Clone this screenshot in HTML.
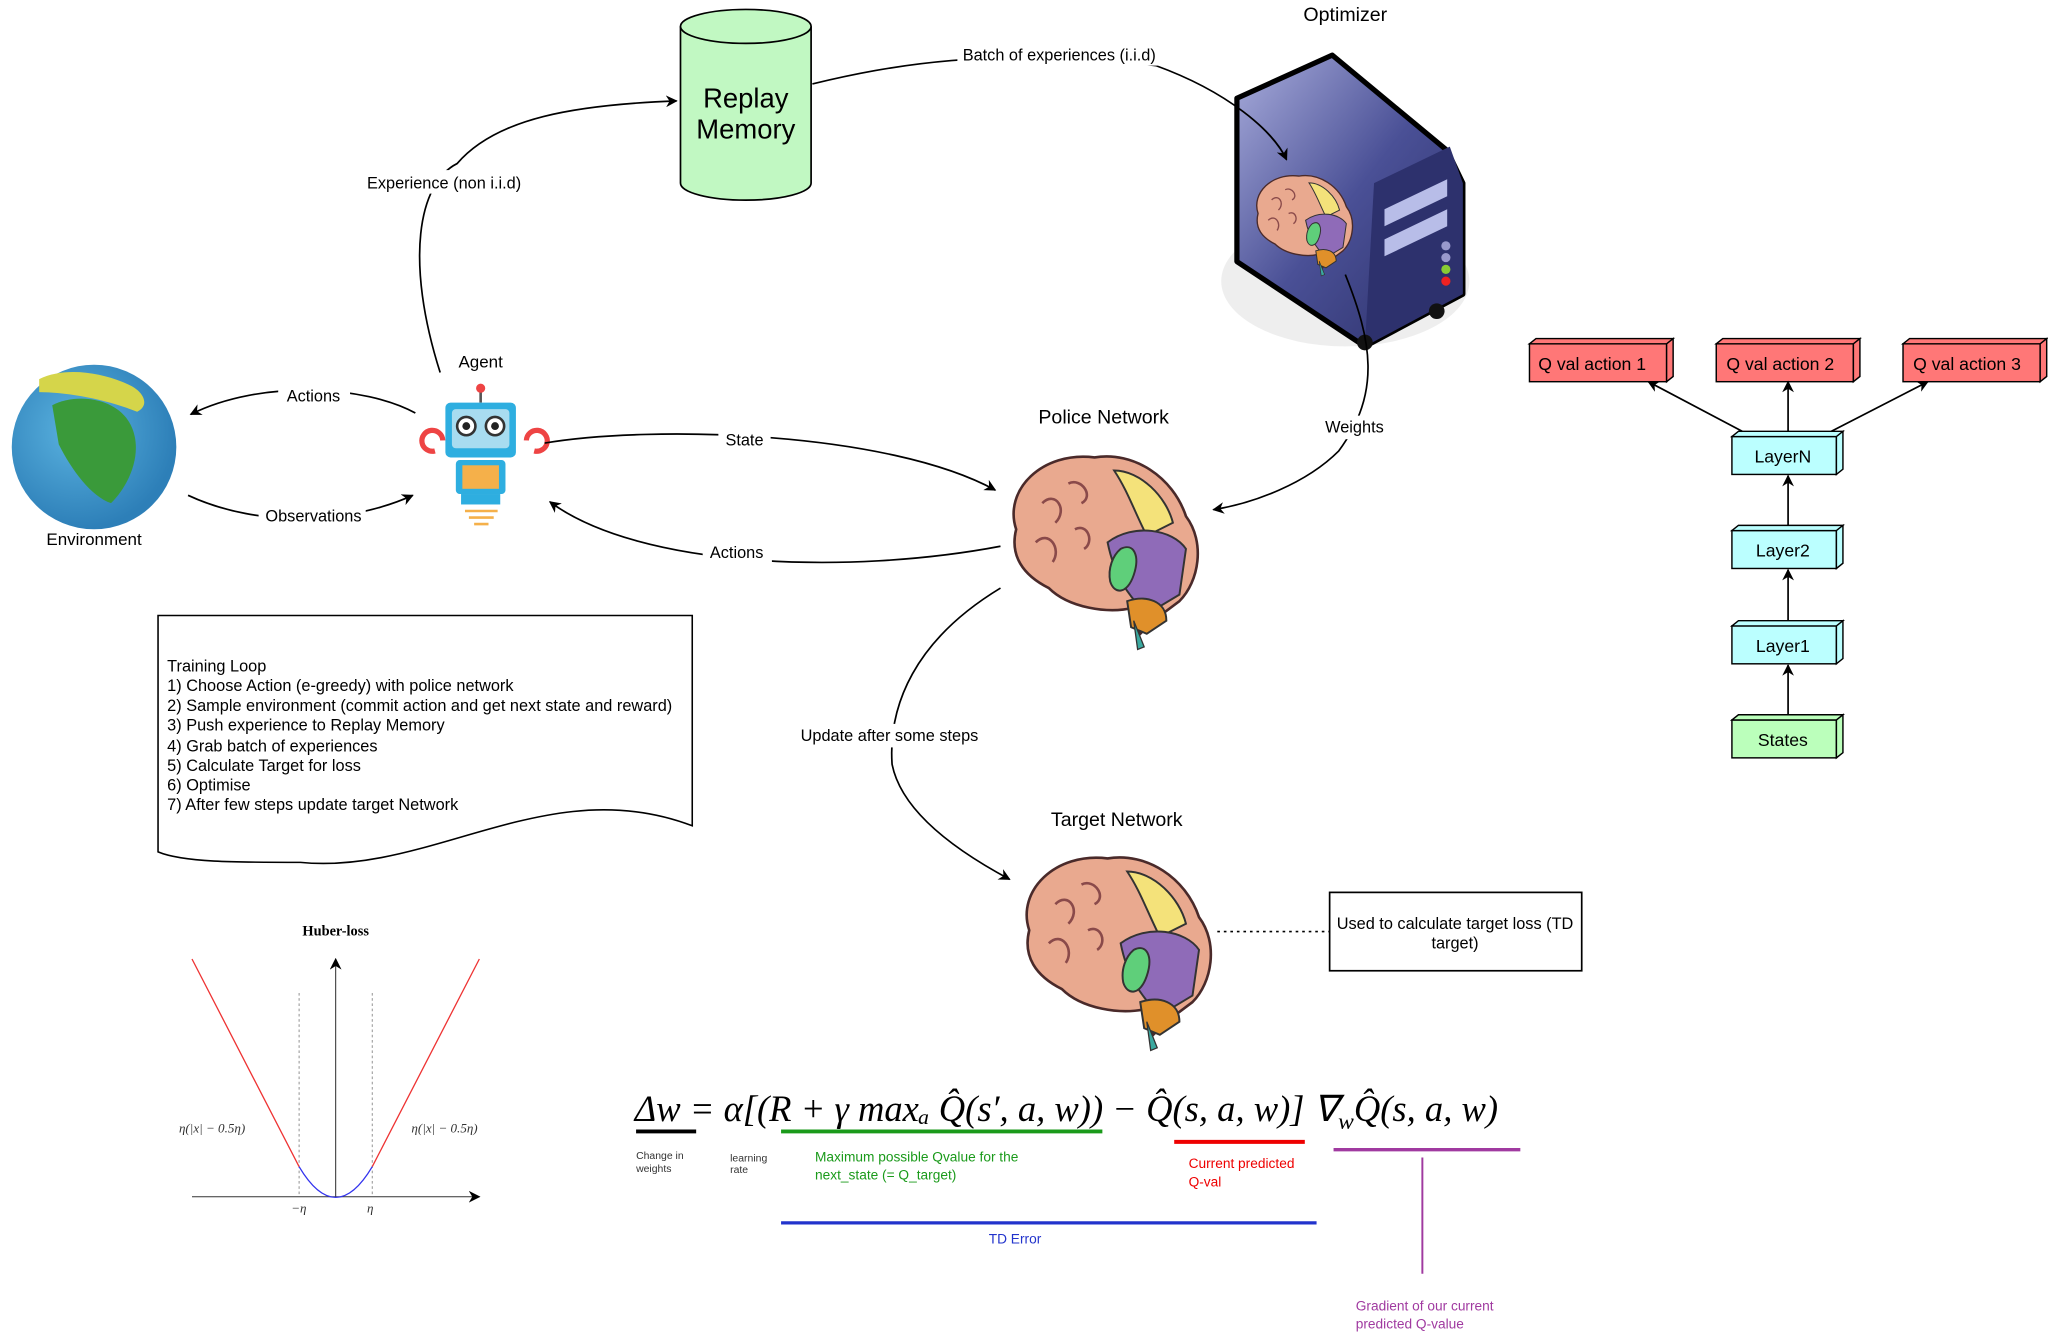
<!DOCTYPE html>
<html><head><meta charset="utf-8"><style>
html,body{margin:0;padding:0;background:#fff;}
svg{display:block;font-family:"Liberation Sans",sans-serif;}
</style></head><body>
<svg width="2048" height="1342" viewBox="0 0 1568 1027" xmlns="http://www.w3.org/2000/svg">
<defs>
<marker id="ar" viewBox="0 0 10 10" refX="9" refY="5" markerWidth="9" markerHeight="9" orient="auto-start-reverse" markerUnits="userSpaceOnUse"><path d="M0,0 L10,5 L0,10 L3,5 z" fill="#000"/></marker>
<linearGradient id="srv" x1="0" y1="0" x2="1" y2="1"><stop offset="0" stop-color="#a9addc"/><stop offset="0.5" stop-color="#4a5096"/><stop offset="1" stop-color="#2a2e66"/></linearGradient>
<radialGradient id="globe" cx="0.4" cy="0.4" r="0.6"><stop offset="0" stop-color="#5bb3e0"/><stop offset="1" stop-color="#2d7fb8"/></radialGradient>
<g id="brain">
<path d="M10,60 C0,30 30,0 70,5 C100,0 130,20 140,50 C155,70 150,100 135,115 L115,130 L105,140 L100,120 C80,125 50,120 35,105 C15,95 5,80 10,60 z" fill="#e9a98f" stroke="#4a2a2a" stroke-width="2"/>
<path d="M85,15 C105,15 125,35 130,55 L110,65 C100,45 95,30 85,15z" fill="#f4e27a" stroke="#333" stroke-width="1.5"/>
<path d="M80,70 C100,55 130,60 140,75 L135,110 L110,125 C95,110 85,95 80,70z" fill="#8f6bb8" stroke="#333" stroke-width="1.5"/>
<path d="M90,75 C100,70 105,80 100,95 C95,110 85,110 82,100 C80,90 84,80 90,75z" fill="#5fcf7a" stroke="#333" stroke-width="1.5"/>
<path d="M95,115 C110,110 125,115 125,130 L110,140 L98,135z" fill="#e0902a" stroke="#333" stroke-width="1.5"/>
<path d="M100,130 L108,150 L103,152z" fill="#3aa9a0" stroke="#333"/>
<path d="M30,40 C40,30 50,45 40,55 M50,25 C60,20 70,35 60,40 M25,70 C35,60 45,75 38,85 M55,60 C65,55 70,70 62,75" fill="none" stroke="#8a4a4a" stroke-width="2"/>
</g>
</defs>

<!-- Replay memory -->
<path d="M521,20 L521,140 A50,13 0 0 0 621,140 L621,20" fill="#c1f8c2" stroke="#000" stroke-width="1.3"/>
<ellipse cx="571" cy="20" rx="50" ry="13" fill="#c1f8c2" stroke="#000" stroke-width="1.3"/>
<text x="571" y="82" font-size="21" text-anchor="middle">Replay</text>
<text x="571" y="106" font-size="21" text-anchor="middle">Memory</text>

<!-- Optimizer server -->
<text x="1030" y="16" font-size="15" text-anchor="middle">Optimizer</text>
<ellipse cx="1030" cy="215" rx="95" ry="50" fill="#ddd" opacity="0.5"/>
<path d="M947,75 L1020,42 L1108,115 L1120,140 L1120,225 L1045,265 L947,200 z" fill="url(#srv)" stroke="#000" stroke-width="4" stroke-linejoin="round"/>
<path d="M1052,140 L1110,112 L1120,140 L1120,225 L1045,265 z" fill="#2d316d"/>
<path d="M1060,160 L1108,137 L1108,150 L1060,173z M1060,183 L1108,160 L1108,173 L1060,196z" fill="#b8bde8"/>
<circle cx="1107" cy="188" r="3.5" fill="#99c"/><circle cx="1107" cy="197" r="3.5" fill="#99c"/><circle cx="1107" cy="206" r="3.5" fill="#8c3"/><circle cx="1107" cy="215" r="3.5" fill="#e22"/>
<circle cx="1045" cy="262" r="6" fill="#111"/><circle cx="1100" cy="238" r="6" fill="#111"/>
<use href="#brain" transform="translate(958,132) scale(0.52)"/>

<!-- Globe -->
<circle cx="72" cy="342" r="63" fill="url(#globe)"/>
<path d="M40,310 C60,300 90,305 100,325 C110,345 100,370 85,385 C70,380 55,360 45,340z" fill="#3a9a3a"/>
<path d="M30,290 C50,280 80,285 100,295 C110,300 115,310 105,315 C80,305 50,300 30,300z" fill="#d5d54a"/>
<text x="72" y="417" font-size="13" text-anchor="middle">Environment</text>

<!-- Agent robot -->
<text x="368" y="281" font-size="13" text-anchor="middle">Agent</text>
<line x1="368" y1="298" x2="368" y2="308" stroke="#555" stroke-width="2"/><circle cx="368" cy="297" r="3.5" fill="#e44"/>
<rect x="341" y="308" width="54" height="42" rx="4" fill="#2eaee0"/>
<rect x="346" y="313" width="44" height="30" rx="3" fill="#a8dcf0"/>
<circle cx="357" cy="326" r="7" fill="#fff" stroke="#333" stroke-width="2"/><circle cx="379" cy="326" r="7" fill="#fff" stroke="#333" stroke-width="2"/>
<circle cx="357" cy="326" r="3" fill="#222"/><circle cx="379" cy="326" r="3" fill="#222"/>
<rect x="349" y="352" width="38" height="26" rx="3" fill="#2eaee0"/><rect x="354" y="356" width="28" height="18" fill="#f5b04a"/>
<rect x="353" y="378" width="30" height="8" fill="#2eaee0"/>
<path d="M333,345 a8,8 0 1 1 6,-8" fill="none" stroke="#e44" stroke-width="4"/><path d="M403,337 a8,8 0 1 1 6,8" fill="none" stroke="#e44" stroke-width="4"/>
<line x1="356" y1="391" x2="381" y2="391" stroke="#f5b04a" stroke-width="2"/><line x1="359" y1="396" x2="378" y2="396" stroke="#f5b04a" stroke-width="2"/><line x1="363" y1="401" x2="374" y2="401" stroke="#f5b04a" stroke-width="2"/>

<!-- Brains -->
<text x="845" y="324" font-size="15" text-anchor="middle">Police Network</text>
<use href="#brain" transform="translate(768,345)"/>
<text x="855" y="632" font-size="15" text-anchor="middle">Target Network</text>
<use href="#brain" transform="translate(778,652)"/>

<!-- connectors -->
<g fill="none" stroke="#000" stroke-width="1.3">
<path d="M337,285 C310,200 320,140 350,125 C380,90 440,80 518,77" marker-end="url(#ar)"/>
<path d="M622,64 C680,50 760,35 885,50 C940,70 975,100 985,122" marker-end="url(#ar)"/>
<path d="M318,316 C280,295 200,290 146,317" marker-end="url(#ar)"/>
<path d="M144,379 C200,405 270,400 316,379" marker-end="url(#ar)"/>
<path d="M417,339 C500,325 680,330 762,375" marker-end="url(#ar)"/>
<path d="M766,418 C650,440 490,435 421,384" marker-end="url(#ar)"/>
<path d="M1030,210 C1050,260 1058,300 1025,345 C1000,370 960,385 929,390" marker-end="url(#ar)"/>
<path d="M766,450 C700,490 680,540 683,585 C690,620 730,650 773,673" marker-end="url(#ar)"/>
</g>
<g font-size="12.5" text-anchor="middle">
<rect x="278" y="130" width="125" height="18" fill="#fff"/><text x="340" y="144">Experience (non i.i.d)</text>
<rect x="733" y="32" width="157" height="18" fill="#fff"/><text x="811" y="46">Batch of experiences (i.i.d)</text>
<rect x="213" y="294" width="55" height="18" fill="#fff"/><text x="240" y="307">Actions</text>
<rect x="198" y="386" width="82" height="18" fill="#fff"/><text x="240" y="399">Observations</text>
<rect x="550" y="328" width="40" height="18" fill="#fff"/><text x="570" y="341">State</text>
<rect x="538" y="414" width="53" height="18" fill="#fff"/><text x="564" y="427">Actions</text>
<rect x="1010" y="318" width="55" height="18" fill="#fff"/><text x="1037" y="331">Weights</text>
<rect x="608" y="554" width="148" height="18" fill="#fff"/><text x="681" y="567">Update after some steps</text>
</g>

<!-- Training loop doc -->
<path d="M121,471 L530,471 L530,632 C420,590 330,670 230,660 C180,660 140,660 121,652 z" fill="#fff" stroke="#000" stroke-width="1.2"/>
<g font-size="12.5">
<text x="128" y="514">Training Loop</text>
<text x="128" y="529">1) Choose Action (e-greedy) with police network</text>
<text x="128" y="544">2) Sample environment (commit action and get next state and reward)</text>
<text x="128" y="559">3) Push experience to Replay Memory</text>
<text x="128" y="575">4) Grab batch of experiences</text>
<text x="128" y="590">5) Calculate Target for loss</text>
<text x="128" y="605">6) Optimise</text>
<text x="128" y="620">7) After few steps update target Network</text>
</g>

<!-- target box -->
<line x1="932" y1="713" x2="1018" y2="713" stroke="#000" stroke-dasharray="2,3" stroke-width="1.3"/>
<rect x="1018" y="683" width="193" height="60" fill="#fff" stroke="#000" stroke-width="1.3"/>
<text x="1114" y="711" font-size="12.5" text-anchor="middle">Used to calculate target loss (TD</text>
<text x="1114" y="726" font-size="12.5" text-anchor="middle">target)</text>

<!-- NN stack -->
<g stroke="#000" stroke-width="1.1">
<g fill="#f77">
<rect x="1171" y="263" width="105" height="29"/><path d="M1171,263 l5,-4 h105 l-5,4z M1276,263 l5,-4 v29 l-5,4z"/>
<rect x="1314" y="263" width="105" height="29"/><path d="M1314,263 l5,-4 h105 l-5,4z M1419,263 l5,-4 v29 l-5,4z"/>
<rect x="1457" y="263" width="105" height="29"/><path d="M1457,263 l5,-4 h105 l-5,4z M1562,263 l5,-4 v29 l-5,4z"/>
</g>
<g fill="#bff">
<rect x="1326" y="334" width="80" height="29"/><path d="M1326,334 l5,-4 h80 l-5,4z M1406,334 l5,-4 v29 l-5,4z"/>
<rect x="1326" y="406" width="80" height="29"/><path d="M1326,406 l5,-4 h80 l-5,4z M1406,406 l5,-4 v29 l-5,4z"/>
<rect x="1326" y="479" width="80" height="29"/><path d="M1326,479 l5,-4 h80 l-5,4z M1406,479 l5,-4 v29 l-5,4z"/>
</g>
<g fill="#bfb"><rect x="1326" y="551" width="80" height="29"/><path d="M1326,551 l5,-4 h80 l-5,4z M1406,551 l5,-4 v29 l-5,4z"/></g>
<g fill="none" stroke-width="1.3">
<line x1="1369" y1="547" x2="1369" y2="509" marker-end="url(#ar)"/>
<line x1="1369" y1="475" x2="1369" y2="436" marker-end="url(#ar)"/>
<line x1="1369" y1="402" x2="1369" y2="364" marker-end="url(#ar)"/>
<line x1="1369" y1="330" x2="1369" y2="292" marker-end="url(#ar)"/>
<line x1="1334" y1="330" x2="1262" y2="292" marker-end="url(#ar)"/>
<line x1="1402" y1="330" x2="1476" y2="292" marker-end="url(#ar)"/>
</g>
</g>
<g font-size="13.5" text-anchor="middle">
<text x="1219" y="283">Q val action 1</text><text x="1363" y="283">Q val action 2</text><text x="1506" y="283">Q val action 3</text>
<text x="1365" y="354">LayerN</text><text x="1365" y="426">Layer2</text><text x="1365" y="499">Layer1</text><text x="1365" y="571">States</text>
</g>

<!-- Huber -->
<text x="257" y="716" font-size="11" font-weight="bold" text-anchor="middle" font-family="Liberation Serif,serif">Huber-loss</text>
<line x1="147" y1="916" x2="367" y2="916" stroke="#333" marker-end="url(#ar)" stroke-width="0.8"/>
<line x1="257" y1="916" x2="257" y2="734" stroke="#333" marker-end="url(#ar)" stroke-width="0.8"/>
<line x1="229" y1="760" x2="229" y2="916" stroke="#888" stroke-dasharray="2,2" stroke-width="0.7"/>
<line x1="285" y1="760" x2="285" y2="916" stroke="#888" stroke-dasharray="2,2" stroke-width="0.7"/>
<path d="M147,734 L229,893 M285,893 L367,734" stroke="#e33" fill="none"/>
<path d="M229,893 Q257,940 285,893" stroke="#33e" fill="none"/>
<g font-size="10" font-family="Liberation Serif,serif" font-style="italic" fill="#333">
<text x="137" y="867">η(|x| − 0.5η)</text><text x="315" y="867">η(|x| − 0.5η)</text>
<text x="223" y="928">−η</text><text x="281" y="928">η</text>
</g>

<!-- Equation -->
<text x="486" y="858" font-size="28" font-family="Liberation Serif,serif" font-style="italic">Δw = α[(R + γ maxₐ Q̂(s′, a, w)) − Q̂(s, a, w)] ∇<tspan font-size="18" dy="6">w</tspan><tspan dy="-6">Q̂(s, a, w)</tspan></text>
<line x1="487" y1="866" x2="533" y2="866" stroke="#000" stroke-width="3"/>
<line x1="598" y1="866" x2="844" y2="866" stroke="#1a9a1a" stroke-width="3"/>
<line x1="899" y1="874" x2="999" y2="874" stroke="#e00" stroke-width="3"/>
<line x1="1021" y1="880" x2="1164" y2="880" stroke="#a03aa0" stroke-width="2.5"/>
<line x1="1089" y1="886" x2="1089" y2="975" stroke="#a03aa0" stroke-width="1.5"/>
<line x1="598" y1="936" x2="1008" y2="936" stroke="#2233cc" stroke-width="2.5"/>
<g font-size="8" fill="#333"><text x="487" y="887">Change in</text><text x="487" y="897">weights</text><text x="559" y="889">learning</text><text x="559" y="898">rate</text></g>
<g font-size="10.5"><text x="624" y="889" fill="#1a9a1a">Maximum possible Qvalue for the</text><text x="624" y="903" fill="#1a9a1a">next_state (= Q_target)</text>
<text x="910" y="894" fill="#e00">Current predicted</text><text x="910" y="908" fill="#e00">Q-val</text>
<text x="757" y="952" fill="#2233cc">TD Error</text>
<text x="1038" y="1003" fill="#a03aa0">Gradient of our current</text><text x="1038" y="1017" fill="#a03aa0">predicted Q-value</text></g>
</svg>
</body></html>
